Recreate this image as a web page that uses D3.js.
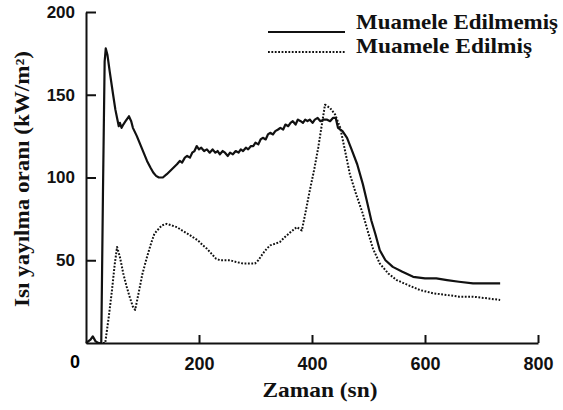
<!DOCTYPE html>
<html>
<head>
<meta charset="utf-8">
<script src="https://cdn.jsdelivr.net/npm/d3@7"></script>
<style>
body { margin: 0; background: #fff; }
.axis path, .axis line { stroke: #111; stroke-width: 2; }
.axis text { font-family: "Liberation Sans", Arial, sans-serif; font-weight: bold; fill: #111; }
.title { font-family: "Liberation Serif", "Times New Roman", serif; font-weight: bold; fill: #111; }
</style>
</head>
<body>
<div id="idChart"></div>
<script>
// series: time (sn) and heat release rate (kW/m2)
var untreatedTime = [0, 8, 12, 17, 22, 27, 30, 33, 35, 38, 42, 48, 52, 55, 58, 60, 63, 66, 70, 76, 80, 83, 90, 96, 102, 108, 114, 119, 124, 129, 136, 143, 152, 161, 166, 170, 175, 179, 184, 188, 192, 196, 200, 204, 209, 214, 219, 224, 229, 233, 237, 242, 246, 251, 255, 260, 265, 270, 274, 278, 283, 287, 292, 296, 300, 305, 309, 313, 318, 322, 326, 331, 335, 340, 344, 349, 353, 358, 362, 366, 371, 375, 380, 384, 388, 392, 396, 401, 405, 410, 415, 420, 426, 432, 437, 442, 446, 454, 462, 470, 480, 490, 497, 505, 512, 520, 530, 543, 560, 579, 600, 620, 639, 660, 685, 710, 733];
var untreatedValue = [0, 2, 4, 1, 0, 0, 90, 170, 178, 174, 164, 150, 141, 136, 131, 133, 130, 132, 134, 137, 134, 130, 125, 120, 115, 110, 106, 103, 101, 100, 100, 102, 105, 108, 110, 109, 112, 113, 112, 115, 116, 119, 117, 118, 116, 117, 115, 117, 115, 116, 114, 116, 115, 113, 115, 114, 116, 115, 117, 116, 118, 117, 119, 119, 121, 120, 123, 124, 123, 126, 127, 126, 128, 129, 130, 129, 132, 131, 133, 134, 132, 135, 134, 133, 135, 134, 135, 133, 135, 136, 134, 135, 135, 134, 136, 136, 130, 128, 124, 117, 108, 96, 86, 74, 66, 56, 50, 46, 43, 40, 39, 39, 38, 37, 36, 36, 36];

var treatedTime = [30, 34, 40, 46, 51, 55, 60, 66, 72, 78, 83, 87, 93, 100, 108, 115, 121, 126, 134, 143, 152, 161, 170, 180, 189, 198, 207, 214, 222, 230, 237, 245, 255, 265, 278, 288, 299, 305, 313, 320, 326, 335, 343, 352, 362, 373, 382, 388, 396, 404, 411, 417, 423, 432, 441, 450, 458, 467, 478, 490, 500, 508, 520, 535, 550, 570, 591, 615, 639, 660, 685, 710, 733];
var treatedValue = [0, 0, 15, 32, 48, 58, 52, 42, 34, 27, 22, 20, 30, 42, 52, 60, 66, 68, 71, 72, 71, 70, 68, 66, 64, 62, 59, 57, 54, 51, 50, 50, 50, 49, 48, 48, 48, 50, 54, 57, 59, 60, 61, 64, 67, 70, 68, 78, 92, 105, 118, 131, 144, 142, 138, 130, 117, 102, 90, 78, 66, 57, 48, 42, 38, 35, 32, 30, 29, 28, 28, 27, 26];

var xTicks = [200, 400, 600, 800];
var yTicks = [50, 100, 150, 200];
var legendLabels = ["Muamele Edilmemiş", "Muamele Edilmiş"];
var xTitle = "Zaman (sn)";
var yTitle = "Isı yayılma oranı (kW/m²)";

function drawChart()
{
    var iWidth = 563;
    var iHeight = 410;

    var svg = d3.select("#idChart").append("svg")
        .attr("width", iWidth)
        .attr("height", iHeight)
        .style("background", "#fff");

    var x = d3.scaleLinear().domain([0, 800]).range([86, 538]);
    var y = d3.scaleLinear().domain([0, 200]).range([343, 12]);

    var series = [
        { name: legendLabels[0], rows: untreatedTime.map(function(t, i) { return { no: t, value: untreatedValue[i] }; }), dash: null },
        { name: legendLabels[1], rows: treatedTime.map(function(t, i) { return { no: t, value: treatedValue[i] }; }), dash: "1.8,1.6" }
    ];

    var valueLine = d3.line()
        .x(function(d) { return x(d.no); })
        .y(function(d) { return y(d.value); });

    series.forEach(function(s) {
        svg.append("path")
            .attr("d", valueLine(s.rows))
            .attr("fill", "none")
            .attr("stroke", "#111")
            .attr("stroke-width", s.dash ? 2 : 2.2)
            .attr("stroke-linejoin", "round")
            .attr("stroke-dasharray", s.dash);
    });

    // axes, ticks point inward
    var yAxis = d3.axisLeft(y).tickValues(yTicks).tickSize(-10).tickSizeOuter(0).tickPadding(11);
    var xAxis = d3.axisBottom(x).tickValues(xTicks).tickSize(-8).tickSizeOuter(0).tickPadding(14);

    var gy = svg.append("g").attr("class", "axis y")
        .attr("transform", "translate(" + x(0) + ",0)")
        .call(yAxis);
    gy.selectAll("text").style("font-size", "17px");

    var gx = svg.append("g").attr("class", "axis x")
        .attr("transform", "translate(0," + y(0) + ")")
        .call(xAxis);
    gx.selectAll("text").style("font-size", "18px");

    svg.append("text")
        .attr("class", "axis")
        .attr("x", x(0) - 11)
        .attr("y", y(0) + 25)
        .attr("text-anchor", "middle")
        .style("font-family", "'Liberation Sans', Arial, sans-serif")
        .style("font-weight", "bold")
        .style("font-size", "18px")
        .text("0");

    // axis titles
    svg.append("text")
        .attr("class", "title")
        .attr("x", 320)
        .attr("y", 397)
        .attr("text-anchor", "middle")
        .attr("textLength", 115)
        .attr("lengthAdjust", "spacingAndGlyphs")
        .style("font-size", "21px")
        .text(xTitle);

    svg.append("text")
        .attr("class", "title")
        .attr("transform", "translate(29,179) rotate(-90)")
        .attr("text-anchor", "middle")
        .attr("textLength", 256)
        .attr("lengthAdjust", "spacingAndGlyphs")
        .style("font-size", "20px")
        .text(yTitle);

    // legend
    var legend = svg.append("g").attr("transform", "translate(268,32)");
    series.forEach(function(s, i) {
        legend.append("line")
            .attr("x1", 0).attr("x2", 77)
            .attr("y1", i * 20).attr("y2", i * 20)
            .attr("stroke", "#111")
            .attr("stroke-width", 2)
            .attr("stroke-dasharray", s.dash);
        legend.append("text")
            .attr("class", "title")
            .attr("x", 88)
            .attr("y", i * 24 - 3)
            .attr("textLength", i == 0 ? 202 : 176)
            .attr("lengthAdjust", "spacingAndGlyphs")
            .style("font-size", "21px")
            .text(s.name);
    });
}

drawChart();
</script>
</body>
</html>
